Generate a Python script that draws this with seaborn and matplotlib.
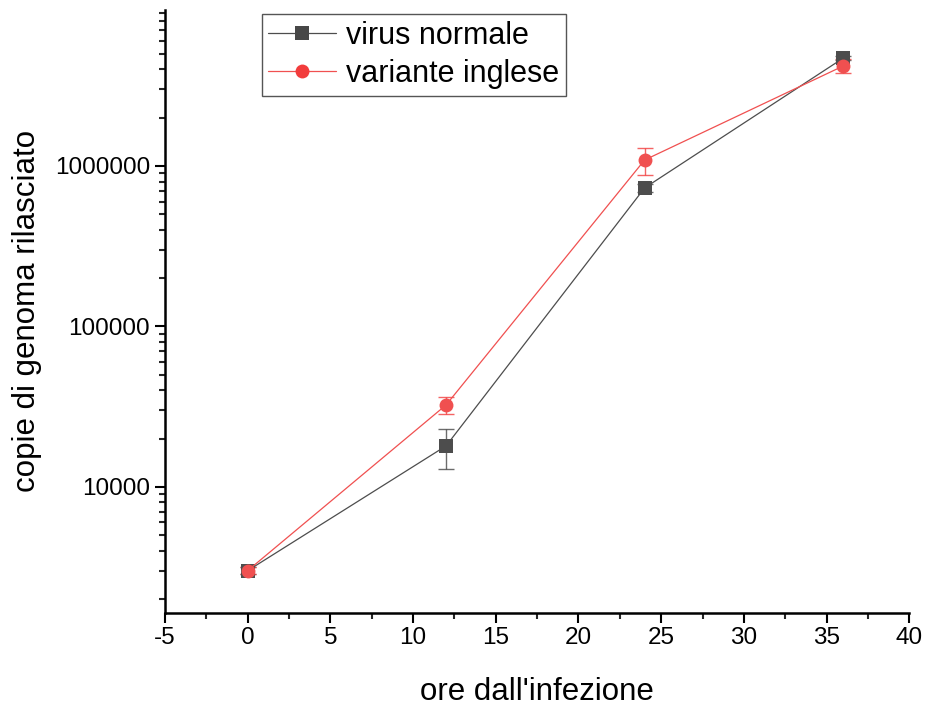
import matplotlib
matplotlib.use("Agg")
import matplotlib.pyplot as plt
import matplotlib.ticker as mticker
import seaborn as sns
import pandas as pd
import numpy as np
from matplotlib.lines import Line2D

ore = [0, 12, 24, 36]
normale = [3000, 18000, 730000, 4700000]
normale_err = [150, 5000, 40000, 150000]
inglese = [3000, 32400, 1090000, 4200000]
inglese_err = [150, 4000, 210000, 420000]
series_names = ["virus normale", "variante inglese"]

sns.set_theme(style="ticks")
plt.rcParams['font.family'] = ['Liberation Sans', 'DejaVu Sans']
plt.rcParams['axes.unicode_minus'] = False
plt.rcParams['text.color'] = 'black'
plt.rcParams['axes.labelcolor'] = 'black'

df = pd.DataFrame({
    "ore": ore * 2,
    "copie": normale + inglese,
    "err": normale_err + inglese_err,
    "serie": [series_names[0]] * 4 + [series_names[1]] * 4,
})

fig = plt.figure(figsize=(9.26, 7.06), dpi=100)
ax = fig.add_axes([0.178, 0.132, 0.804, 0.854])

colors = {series_names[0]: "#474747", series_names[1]: "#f23c3c"}
line_colors = {series_names[0]: "#4d4d4d", series_names[1]: "#f05050"}
markers = {series_names[0]: "s", series_names[1]: "o"}

for name in series_names:
    sub = df[df.serie == name]
    ax.errorbar(sub.ore, sub.copie, yerr=sub.err, fmt="none",
                ecolor=colors[name], elinewidth=1, capsize=6, capthick=1,
                alpha=0.8, zorder=2)

sns.lineplot(data=df, x="ore", y="copie", hue="serie", style="serie",
             markers=markers, dashes=False, palette=line_colors,
             linewidth=0.9, markersize=10, markeredgewidth=0,
             ax=ax, legend=False, zorder=3)
for line, name in zip(ax.get_lines(), series_names):
    line.set_markerfacecolor(colors[name])

ax.set_yscale("log")
ax.set_xlim(-5, 40)
ax.set_ylim(1640, 9.4e6)
ax.set_xticks(np.arange(-5, 41, 5))
ax.xaxis.set_minor_locator(mticker.MultipleLocator(2.5))
ax.yaxis.set_major_locator(mticker.FixedLocator([1e4, 1e5, 1e6]))
ax.yaxis.set_major_formatter(mticker.FuncFormatter(lambda v, p: f"{int(round(v))}"))
ax.yaxis.set_minor_locator(mticker.LogLocator(base=10, subs=np.arange(2, 10)))
ax.yaxis.set_minor_formatter(mticker.NullFormatter())

ax.tick_params(axis="both", which="major", direction="out", length=7, width=1.5,
               labelsize=17.5, colors="black", labelcolor="black")
ax.tick_params(axis="both", which="minor", direction="out", length=4, width=1.5)
for s in ["left", "bottom"]:
    ax.spines[s].set_linewidth(1.8)
    ax.spines[s].set_color("black")
ax.spines["top"].set_visible(False)
ax.spines["right"].set_visible(False)

ax.set_xlabel("ore dall'infezione", fontsize=22.5, labelpad=20, color="black")
ax.set_ylabel("copie di genoma rilasciato", fontsize=22.5, labelpad=9, color="black")

handles = [Line2D([0], [0], color=line_colors[n], marker=markers[n], markersize=10,
                  markerfacecolor=colors[n], markeredgewidth=0, linewidth=0.9)
           for n in series_names]
leg = ax.legend(handles, series_names, loc="upper left", bbox_to_anchor=(0.130, 0.993),
                fontsize=22, frameon=True, fancybox=False, framealpha=1,
                edgecolor="#555555", borderpad=0.22, handlelength=2.2,
                handletextpad=0.35, labelspacing=0.27, borderaxespad=0.0,
                labelcolor="black")
leg.get_frame().set_linewidth(1.0)

fig.savefig("out.png", dpi=100)
